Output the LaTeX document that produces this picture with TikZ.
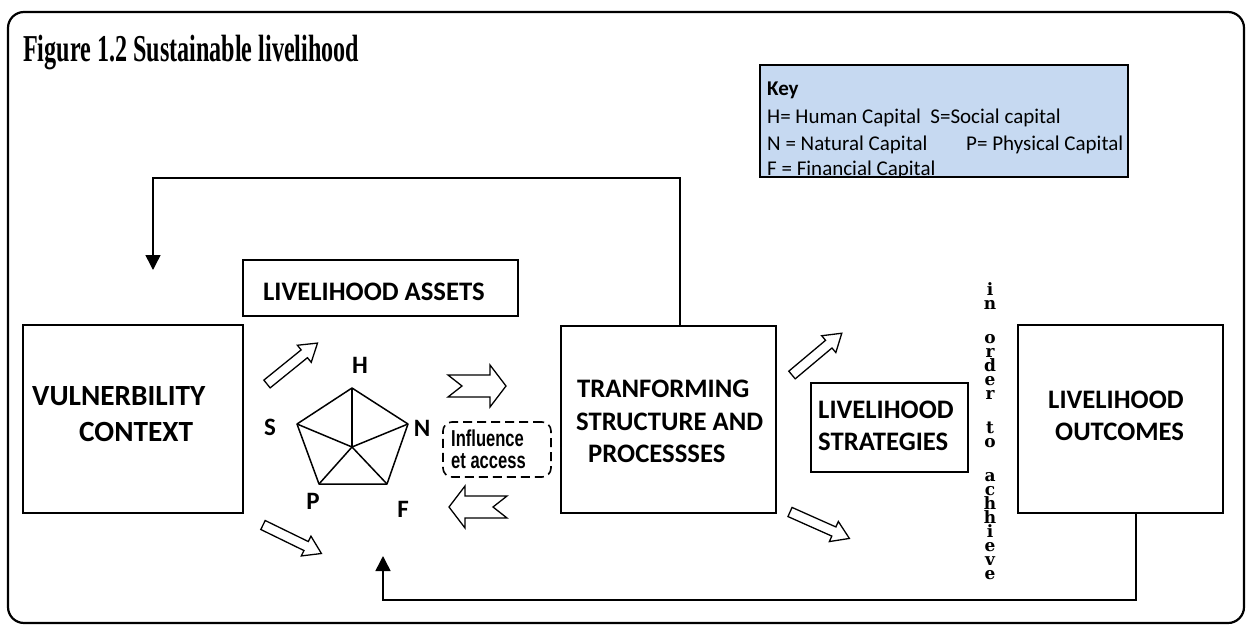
\documentclass[tikz,border=0pt]{standalone}
\usepackage{fontspec}
\setmainfont{Carlito}
\newfontfamily\titlefont{Liberation Serif}
\newfontfamily\narrowfont{Liberation Sans}
\newfontfamily\stackfont{DejaVu Serif}
\usetikzlibrary{arrows.meta}
\definecolor{keyblue}{HTML}{C6D9F1}
\newcommand{\stk}[1]{\hbox to 14pt{\hss#1\hss}}

\tikzset{
  box/.style={draw, line width=1.6pt, rectangle, inner sep=0pt},
  lbl/.style={inner sep=0pt, anchor=base west, font=\fontsize{26.7}{32}\selectfont\bfseries},
  biglbl/.style={lbl, font=\fontsize{29.3}{34}\selectfont\bfseries},
  capl/.style={inner sep=0pt, font=\fontsize{25}{28}\selectfont\bfseries},
  keyl/.style={inner sep=0pt, anchor=base west, font=\fontsize{21}{26}\selectfont},
  narrowl/.style={inner sep=0pt, anchor=base west, font=\narrowfont\bfseries\fontsize{23}{26}\selectfont},
  stackl/.style={inner sep=0pt, anchor=north, font=\stackfont\bfseries\fontsize{17}{14}\selectfont},
  conn/.style={line width=1.5pt, -{Triangle[length=15pt,width=15pt]}},
  fatarrow/.pic={\draw[line width=1.3pt, fill=white] (0,-5) -- (48,-5) -- (48,-11) -- (65,0)
      -- (48,11) -- (48,5) -- (0,5) -- cycle;},
  notcharrow/.pic={\draw[line width=1.3pt, fill=white] (0,-11) -- (42,-11) -- (42,-21) -- (58,0)
      -- (42,21) -- (42,11) -- (0,11) -- (14,0) -- cycle;}
}

\begin{document}
\begin{tikzpicture}[x=1pt, y=-1pt]
  \useasboundingbox (0,0) rectangle (1251,629);
  \draw[line width=2.2pt, rounded corners=16pt] (8,12) rectangle (1244,623);

  % title
  \node[inner sep=0pt, anchor=base west, font=\titlefont\bfseries\fontsize{38}{42}\selectfont]
    (title) at (23,61) {\scalebox{0.635}[1]{Figure 1.2 Sustainable livelihood}};

  % key
  \node[box, fill=keyblue, minimum width=368pt, minimum height=112pt] (key) at (944,121) {};
  \begin{scope}
    \clip (760,65) rectangle (1128,177);
    \node[keyl, font=\fontsize{21}{26}\selectfont\bfseries] (keyhead) at (767,95) {Key};
    \node[keyl] (keyhs) at (767,123) {H= Human Capital\ \ S=Social capital};
    \node[keyl] (keyn) at (767,150) {N = Natural Capital};
    \node[keyl] (keyp) at (966,150) {P= Physical Capital};
    \node[keyl] (keyf) at (767,175) {F = Financial Capital};
  \end{scope}

  % boxes
  \node[box, minimum width=220pt, minimum height=188pt] (vul) at (133,419) {};
  \node[box, minimum width=275pt, minimum height=56pt] (assets) at (380.5,288) {};
  \node[box, minimum width=215pt, minimum height=187pt] (trans) at (668.5,419.5) {};
  \node[box, minimum width=157pt, minimum height=89pt] (strat) at (889.5,427.5) {};
  \node[box, minimum width=205pt, minimum height=188pt] (outc) at (1120.5,419) {};
  \node[box, dashed, dash pattern=on 9pt off 5pt, rounded corners=9pt,
    minimum width=108pt, minimum height=55pt] (infl) at (497,449.5) {};

  \node[biglbl] (vul1) at (32,405) {VULNERBILITY};
  \node[biglbl] (vul2) at (79,441) {CONTEXT};
  \node[lbl] (assets1) at (263,300) {LIVELIHOOD ASSETS};
  \node[lbl] (trans1) at (577,397) {TRANFORMING};
  \node[lbl] (trans2) at (576,430) {STRUCTURE AND};
  \node[lbl] (trans3) at (588,462) {PROCESSSES};
  \node[lbl] (strat1) at (818,418) {LIVELIHOOD};
  \node[lbl] (strat2) at (818,450) {STRATEGIES};
  \node[lbl] (outc1) at (1048,408) {LIVELIHOOD};
  \node[lbl] (outc2) at (1055,440) {OUTCOMES};
  \node[narrowl] (infl1) at (451,446) {\scalebox{0.72}[1]{Influence}};
  \node[narrowl] (infl2) at (451,468) {\scalebox{0.72}[1]{et access}};

  % asset pentagon
  \coordinate (pc) at (352,447);
  \coordinate (hv) at (352,388);
  \coordinate (nv) at (408,424);
  \coordinate (fv) at (387,484);
  \coordinate (pv) at (319,484);
  \coordinate (sv) at (297,424);
  \draw[line width=1.5pt, line join=round] (hv) -- (nv) -- (fv) -- (pv) -- (sv) -- cycle;
  \foreach \v in {hv,nv,fv,pv,sv}
    \draw[line width=1.5pt] (pc) -- (\v);
  \node[capl] (hlab) at (360,365) {H};
  \node[capl] (slab) at (270,427) {S};
  \node[capl] (nlab) at (422,428) {N};
  \node[capl] (plab) at (313,501) {P};
  \node[capl] (flab) at (403,509) {F};

  % block arrows
  \pic[rotate=39] at (267,384) {fatarrow};
  \pic[rotate=-26] at (263,525) {fatarrow};
  \pic[rotate=40] at (792,375) {fatarrow};
  \pic[rotate=-24] at (790,512) {fatarrow};
  \pic at (448,386) {notcharrow};
  \pic[rotate=180] at (507,507) {notcharrow};

  % in order to achieve
  \node[stackl] (achieve) at (990,282) {\vbox{\baselineskip=14pt\lineskiplimit=-20pt\relax
    \stk{i}\stk{n}\vskip20pt
    \stk{o}\stk{r}\stk{d}\stk{e}\stk{r}\vskip20pt
    \stk{t}\stk{o}\vskip20pt
    \stk{a}\stk{c}\stk{h}\stk{h}\stk{i}\stk{e}\stk{v}\stk{e}}};

  % feedback loops
  \coordinate (loopin) at (153,270);
  \coordinate (pentin) at (383,556);
  \draw[conn] ([xshift=11.5pt]trans.north) -- ++(0,-147) -| (loopin);
  \draw[conn] ([xshift=15.5pt]outc.south) -- ++(0,86) -| (pentin);
\end{tikzpicture}
\end{document}
